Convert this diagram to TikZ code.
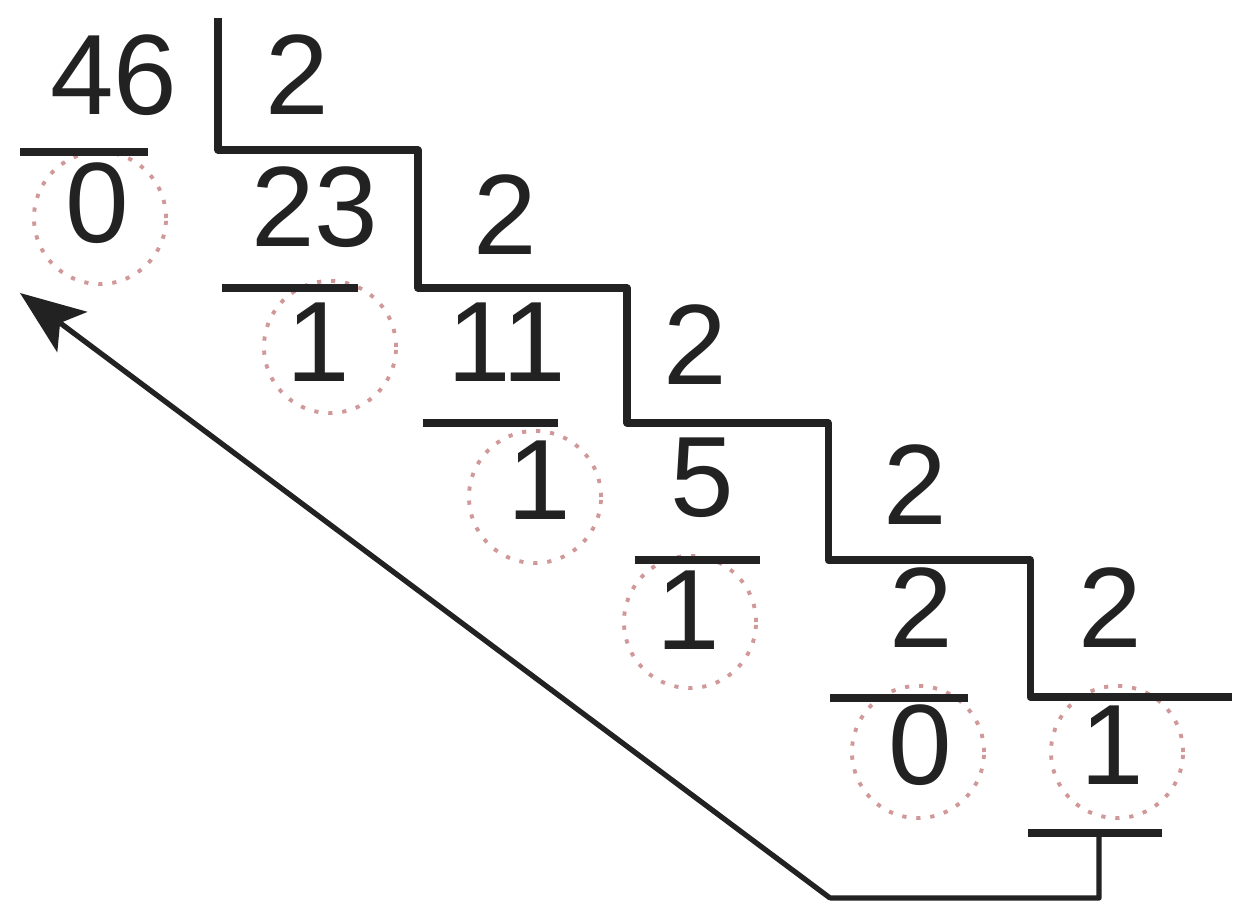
\documentclass[tikz,border=0pt]{standalone}
\usepackage{fontspec}
\setmainfont{Liberation Sans}
\usepackage{tikz}
\usepackage{xcolor}
\usetikzlibrary{arrows.meta,positioning,shapes,calc}
\definecolor{ink}{HTML}{222222}
\definecolor{ringred}{HTML}{D09898}
\tikzset{
  digit/.style={font=\fontsize{32.5}{32.5}\selectfont,text=ink,inner sep=0pt},
  ring/.style={circle,draw=ringred,line width=1.1pt,
               dash pattern=on 1.2pt off 2.8pt,minimum size=1.32cm,inner sep=0pt},
  bar/.style={draw=ink,line width=2pt},
  stair/.style={draw=ink,line width=2pt,line join=round},
  backarr/.style={-{Stealth[length=6.5mm,width=5mm,inset=1.5mm]},draw=ink,line width=1.5pt,line join=round}
}
\begin{document}
\begin{tikzpicture}[x=0.01cm,y=-0.01cm]
  \useasboundingbox (0,0) rectangle (1234,907);
  % dividends and divisors
  \node[digit] (n46) at (114,75) {46};
  \node[digit] (dv1) at (297,75) {2};
  \node[digit] (n23) at (315,207) {23};
  \node[digit] (dv2) at (505,215) {2};
  \node[digit] (n11) at (507,342) {11};
  \node[digit] (dv3) at (695,345) {2};
  \node[digit] (n5) at (702,478) {5};
  \node[digit] (dv4) at (915,485) {2};
  \node[digit] (n2) at (921,608) {2};
  \node[digit] (dv5) at (1110,608) {2};
  % remainders
  \node[digit] (r1) at (97,203) {0};
  \node[digit] (r2) at (318,342) {1};
  \node[digit] (r3) at (539,480) {1};
  \node[digit] (r4) at (688,610) {1};
  \node[digit] (r5) at (920,745) {0};
  \node[digit] (r6) at (1112,745) {1};
  \node[ring] (c1) at (100,218) {};
  \node[ring] (c2) at (330,347) {};
  \node[ring] (c3) at (535,497) {};
  \node[ring] (c4) at (690,622) {};
  \node[ring] (c5) at (918,752) {};
  \node[ring] (c6) at (1117,752) {};
  % underlines
  \draw[bar] (20,152) -- (148,152);
  \draw[bar] (222,288) -- (358,288);
  \draw[bar] (423,423) -- (558,423);
  \draw[bar] (635,560) -- (760,560);
  \draw[bar] (830,698) -- (968,698);
  \draw[bar] (1028,833) coordinate (u6l) -- (1162,833) coordinate (u6r);
  % staircase
  \draw[stair] (218,18) -- (218,150) -- (418,150) -- (418,288) -- (627,288)
    -- (627,423) -- (828,423) -- (828,560) -- (1030,560) -- (1030,697) -- (1232,697);
  % read back
  \coordinate (tip) at (20,293);
  \coordinate (turn) at (830,898);
  \draw[backarr] ($(u6l)!0.53!(u6r)$) -- ++(0,65) -| (turn) -- (tip);
\end{tikzpicture}
\end{document}
